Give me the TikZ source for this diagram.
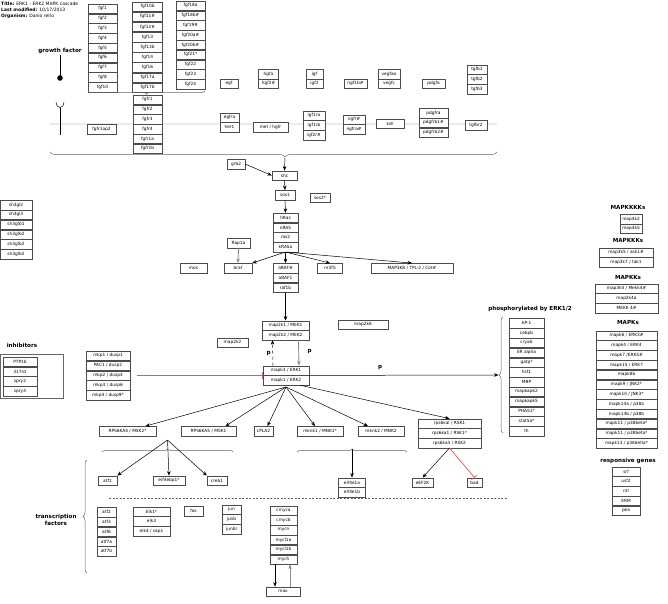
\documentclass[tikz,border=0pt]{standalone}
\usepackage{fontspec}
\setmainfont{DejaVu Sans}
\usetikzlibrary{arrows.meta,positioning,decorations.pathreplacing}
\newcommand{\genefont}{\fontsize{4.3}{5}\selectfont}
\newcommand{\headfont}{\fontsize{5.6}{6.6}\selectfont\bfseries}

\begin{document}
\begin{tikzpicture}[x=1pt, y=-1pt,
  col/.style={rectangle, draw=black!70, fill=white, font=\genefont, minimum height=9.4pt,
              minimum width=#1, inner sep=0.5pt, line width=0.4pt},
  head/.style={font=\headfont, inner sep=0pt},
  act/.style={-{Stealth[length=4.5pt,width=3.6pt]}, line width=0.5pt},
  gact/.style={act, draw=black!45, line width=0.9pt},
  inh/.style={-{Bar[width=7pt]}, draw=red!70, line width=0.7pt},
  brc/.style={decorate, decoration={brace, amplitude=#1}, draw=black!60, line width=0.5pt}]
\useasboundingbox (0,0) rectangle (668,603);

% title block
\node[anchor=north west, align=left, font=\fontsize{4.5}{6}\selectfont, inner sep=0pt](title) at (1,1.5)
  {\textbf{Title:} ERK1 - ERK2 MAPK cascade\\\textbf{Last modified:} 10/17/2013\\\textbf{Organism:} Danio rerio};

% growth factors
\node[head](gf) at (60,51){growth factor};
\draw[line width=0.6pt] (60,55)--(60,76);
\fill (60,78) circle (2.8pt);

\node[col=29pt](f1) at (102.5,8.7){fgf1};
\node[col=29pt, below=0pt of f1](f2){fgf2};
\node[col=29pt, below=0pt of f2](f3){fgf3};
\node[col=29pt, below=0pt of f3](f4){fgf4};
\node[col=29pt, below=0pt of f4](f5){fgf5};
\node[col=29pt, below=0pt of f5](f6){fgf6};
\node[col=29pt, below=0pt of f6](f7){fgf7};
\node[col=29pt, below=0pt of f7](f8){fgf8};
\node[col=29pt, below=0pt of f8](f10){fgf10};

\node[col=30pt](f10b) at (147.5,6.7){fgf10b};
\node[col=30pt, below=0.3pt of f10b](f11){fgf11\#};
\node[col=30pt, below=0.3pt of f11](f12){fgf12\#};
\node[col=30pt, below=0.3pt of f12](f13){fgf13};
\node[col=30pt, below=0.3pt of f13](f13b){fgf13b};
\node[col=30pt, below=0.3pt of f13b](f14){fgf14};
\node[col=30pt, below=0.3pt of f14](f16){fgf16};
\node[col=30pt, below=0.3pt of f16](f17a){fgf17a};
\node[col=30pt, below=0.3pt of f17a](f17b){fgf17b};

\node[col=29pt](f18a) at (190.5,5.7){fgf18a};
\node[col=29pt, below=0pt of f18a](f18b){fgf18b\#};
\node[col=29pt, below=0pt of f18b](f19){fgf19\#};
\node[col=29pt, below=0pt of f19](f20a){fgf20a\#};
\node[col=29pt, below=0pt of f20a](f20b){fgf20b\#};
\node[col=29pt, below=0pt of f20b](f21){fgf21*};
\node[col=29pt, below=0pt of f21](f22){fgf22};
\node[col=29pt, below=0pt of f22](f23){fgf23};
\node[col=29pt, below=0pt of f23](f24){fgf24};

\node[col=18pt](egf) at (229,83.5){egf};
\node[col=20pt](hgfa) at (268.5,74){hgfa};
\node[col=20pt, below=0pt of hgfa](hgf2){hgf2\#};
\node[col=17pt](igf) at (314.5,74){igf};
\node[col=17pt, below=0pt of igf](igf2){igf2};
\node[col=23pt](ngf) at (355.5,83.5){ngf1b\#};
\node[col=22pt](vegfaa) at (389,74){vegfaa};
\node[col=22pt, below=0pt of vegfaa](vegfc){vegfc};
\node[col=23pt](pdgfa) at (433.5,83.5){pdgfa};
\node[col=20pt](tgfb1) at (477,69.5){tgfb1};
\node[col=20pt, below=0pt of tgfb1](tgfb2){tgfb2};
\node[col=20pt, below=0pt of tgfb2](tgfb3){tgfb3};

\draw[brc=3pt] (205,91)--(88,91);

% membrane and receptors
\draw[black!35, line width=2.8pt] (50,124)--(497,124);
\draw[black!8, line width=1.6pt] (50,124)--(497,124);
\draw[line width=0.5pt] (56,102) .. controls (56.5,106) and (58,107.5) .. (60,107.5)
  .. controls (62,107.5) and (63.5,106) .. (64,102);
\draw[line width=0.5pt] (60,107.5)--(60,135);

\node[col=29pt](fr1) at (147.5,99.7){fgfr1};
\node[col=29pt, below=0pt of fr1](fr2){fgfr2};
\node[col=29pt, below=0pt of fr2](fr3){fgfr3};
\node[col=29pt, below=0pt of fr3](fr4){fgfr4};
\node[col=29pt, below=0pt of fr4](fr1a){fgfr1a};
\node[col=29pt, below=0pt of fr1a](fr1b){fgfr1b};
\node[col=29pt](fop) at (101.5,129){fgfr1op2};
\node[col=19pt](egfra) at (229.5,117.5){egfra};
\node[col=19pt, below=0pt of egfra](her1){her1};
\node[col=35pt](met) at (270.5,127){met / hgfr};
\node[col=22pt](igf1ra) at (314,115.5){igf1ra};
\node[col=22pt, below=0pt of igf1ra](igf1rb){igf1rb};
\node[col=22pt, below=0pt of igf1rb](igf2r){igf2r\#};
\node[col=22pt](ngfr) at (354,119.5){ngfr\#};
\node[col=22pt, below=0pt of ngfr](ngfra){ngfra\#};
\node[col=28pt](kdr) at (390,123.5){kdr};
\node[col=29pt](pdgfra) at (433.5,113){pdgfra};
\node[col=29pt, below=0pt of pdgfra](pdgfrb1){pdgfrb1\#};
\node[col=29pt, below=0pt of pdgfrb1](pdgfrb2){pdgfrb2\#};
\node[col=22pt](tgfbr2) at (476,125){tgfbr2};

\draw[decorate, decoration={brace, amplitude=5pt, aspect=0.474}, draw=black!60, line width=0.5pt] (497,152)--(50,152);
\coordinate (rtip) at (285,157.5);

% ras / raf module
\node[col=25pt](shc) at (284.5,175.5){shc};
\node[col=18pt](grb2) at (236,164){grb2};
\node[col=20pt](sos1) at (285,195){sos1};
\node[col=20pt](sos2) at (320,197.5){sos2*};
\node[col=25pt](hras) at (285.5,217.7){hRas};
\node[col=25pt, below=0pt of hras](nras){nRAS};
\node[col=25pt, below=0pt of nras](ras2){ras2};
\node[col=25pt, below=0pt of ras2](kras){kRASa};
\node[col=23pt](rap1a) at (238.5,243){Rap1a};
\node[col=27pt](mos) at (193.5,268){mos};
\node[col=28pt](braf) at (238,268){braf};
\node[col=25pt](araf) at (285.5,268){aRAF\#};
\node[col=25pt, below=0pt of araf](araf1){aRAF1};
\node[col=25pt, below=0pt of araf1](raf1b){raf1b};
\node[col=25pt](nr2f5) at (330,268){nr2f5};
\node[col=82pt](map3k8) at (412,268){MAP3K8 / TPL-2 / Cot\#};

\draw[act] (rtip)--(shc.north);
\draw[act] (grb2.east)--(shc.west);
\draw[act] (shc.south)--(sos1.north);
\draw[act] (sos1.south)--(hras.north);
\draw[gact] (rap1a.south)--(braf.north);
\draw[act] (kras.south)--(braf.north east);
\draw[act] (kras.south)--(araf.north);
\draw[act] (kras.south)--(nr2f5.north);
\draw[act] (kras.south)--(map3k8.north);

% mek / erk
\node[col=47pt](mek1) at (285.5,325.5){map2k1 / MEK1};
\node[col=47pt, below=0pt of mek1](mek2){map2k2 / MEK2};
\node[col=50pt](map2k6) at (363,324.5){map2k6};
\node[col=31pt](map2k2) at (232.5,342.5){map2k2};
\node[col=46pt](erk1) at (286,370.5){mapk3 / ERK1};
\node[col=46pt, below=0pt of erk1](erk2){mapk1 / ERK2};
\draw[act] (raf1b.south)--(mek1.north);
\draw[gact] ([xshift=13pt]mek2.south)--([xshift=13pt]erk1.north);
\draw[act, dashed] ([xshift=-13pt]erk1.north)--([xshift=-13pt]mek2.south);
\node[head](pdown) at (309.5,352){p};
\node[head](pup) at (268.5,354){p};

% inhibitors
\node[head](inhlbl) at (22,345){inhibitors};
\node[draw=black!60, line width=0.4pt, minimum width=62.5pt, minimum height=44pt, inner sep=0pt](inhbox) at (31.75,376){};
\node[col=34pt](ptp) at (20,361.7){PTP1b};
\node[col=34pt, below=0pt of ptp](il17){il17rd};
\node[col=34pt, below=0pt of il17](spry2){spry2};
\node[col=34pt, below=0pt of spry2](spry4){spry4};

\node[col=44pt](mkp1) at (108,355.8){mkp1 / dusp1};
\node[col=44pt, below=0pt of mkp1](pac1){PAC1 / dusp2};
\node[col=44pt, below=0pt of pac1](mkp2){mkp2 / dusp4};
\node[col=44pt, below=0pt of mkp2](mkp3){mkp3 / dusp6};
\node[col=44pt, below=0pt of mkp3](mkp4){mkp4 / dusp9*};
\draw[inh] ([xshift=7pt]mkp2.east)--(mkp2.east -| erk1.west);

\node[col=32pt](sh1) at (16,205){sh3gl2};
\node[col=32pt, below=0pt of sh1](sh2){sh3gl3};
\node[col=32pt, below=0pt of sh2](sh3){sh3glb1};
\node[col=32pt, below=0pt of sh3](sh4){sh3glb2};
\node[col=32pt, below=0pt of sh4](sh5){sh3glb2};
\node[col=32pt, below=0pt of sh5](sh6){sh3glb2};

% phosphorylated by erk1/2
\node[head](phlbl) at (530,309){phosphorylated by ERK1/2};
\node[col=35pt](ap1) at (526.5,323.2){AP-1};
\node[col=35pt, below=0pt of ap1](cebpb){cebpb};
\node[col=35pt, below=0pt of cebpb](cryab){cryab};
\node[col=35pt, below=0pt of cryab](era){ER alpha};
\node[col=35pt, below=0pt of era](gatp){gatp*};
\node[col=35pt, below=0pt of gatp](hsf1){hsf1};
\node[col=35pt, below=0pt of hsf1](mbp){MBP};
\node[col=35pt, below=0pt of mbp](mk2){mapkapk2};
\node[col=35pt, below=0pt of mk2](mk5){mapkapk5};
\node[col=35pt, below=0pt of mk5](phas1){PHAS1*};
\node[col=35pt, below=0pt of phas1](stat5a){stat5a*};
\node[col=35pt, below=0pt of stat5a](th){th};
\draw[brc=4pt] (503,433)--(503,317);
\coordinate (ptip) at (498.5,375);
\draw[act] (erk1.south east)--(ptip);
\node[head](pright) at (380,368){p};

% other mapk families
\node[head](l4k) at (628,207){MAPKKKKs};
\node[col=22pt](m4k2) at (631,219){map4k2};
\node[col=22pt, below=0pt of m4k2](m4k5){map4k5};
\node[head](l3k) at (628,240){MAPKKKs};
\node[col=54pt](m3k5) at (626,252.5){map3k5 / ask1\#};
\node[col=54pt, below=0pt of m3k5](m3k7){map3k7 / tak1};
\node[head](l2k) at (628,277){MAPKKs};
\node[col=63pt](m3k4) at (626.5,288.5){map3k4 / Mekk4\#};
\node[col=63pt, below=0pt of m3k4](m2k4a){map2k4a};
\node[col=63pt, below=0pt of m2k4a](mekk4){MEKK 4\#};
\node[head](lk) at (628,322){MAPKs};
\node[col=61pt](mk6) at (626.5,335.5){mapk6 / ERK3\#};
\node[col=61pt, below=0pt of mk6](mk4){mapk4 / ERK4};
\node[col=61pt, below=0pt of mk4](mk7){mapk7 /ERK5\#};
\node[col=61pt, below=0pt of mk7](mk15){mapk15 / ERK7};
\node[col=61pt, below=0pt of mk15](mk8b){mapk8b};
\node[col=61pt, below=0pt of mk8b](mk9){mapk9 / JNK2*};
\node[col=61pt, below=0pt of mk9](mk10){mapk10 / JNK3*};
\node[col=61pt, below=0pt of mk10](mk14a){mapk14a / p38a};
\node[col=61pt, below=0pt of mk14a](mk14b){mapk14b / p38b};
\node[col=61pt, below=0pt of mk14b](mk11a){mapk11 / p38beta*};
\node[col=61pt, below=0pt of mk11a](mk11b){mapk11 / p38beta*};
\node[col=61pt, below=0pt of mk11b](mk13){mapk13 / p38delta*};

\node[head](lrg) at (628,461){responsive genes};
\node[col=28pt](srf) at (626,471.5){srf};
\node[col=28pt, below=0pt of srf](usf2){usf2};
\node[col=28pt, below=0pt of usf2](ntl){ntl};
\node[col=28pt, below=0pt of ntl](erm){ERM};
\node[col=28pt, below=0pt of erm](pea){pea};

% erk targets
\coordinate (erkc) at (286,387);
\node[col=57pt](msk2) at (127.5,431){RPS6KA4 / MSK2*};
\node[col=55pt](msk1) at (208.5,431){RPS6KA5 / MSK1};
\node[col=19pt](cpla2) at (263.5,431){cPLA2};
\node[col=46pt](mnk1) at (320,431){mknk1 / MNK1*};
\node[col=46pt](mnk2) at (381,431){mknk2 / MNK2};
\node[col=63pt](rsk1) at (449.5,423.5){rps6kal / RSK1};
\node[col=63pt, below=0pt of rsk1](rsk1b){rps6ka1 / RSK1*};
\node[col=63pt, below=0pt of rsk1b](rsk2){rps6ka3 / RSK2};
\draw[act] (erkc)--([xshift=18pt]msk2.north);
\draw[act] (erkc)--([xshift=17pt]msk1.north);
\draw[act] (erkc)--([xshift=4pt]cpla2.north);
\draw[act] (erkc)--([xshift=-5pt]mnk1.north);
\draw[act] (erkc)--([xshift=-13pt]mnk2.north);
\draw[act] ([xshift=14pt]erk2.south)--(rsk1.north);

\draw[brc=3pt] (102,452)--(233,452);
\coordinate (mskc) at (167.5,440);
\node[col=19pt](atf1) at (107.5,480.5){atf1};
\node[col=32pt](eif4ebp) at (169,480.5){eif4ebp1*};
\node[col=20pt](creb1) at (217,480.5){creb1};
\draw[act] (mskc)--(atf1.north east);
\draw[act] (mskc)--(eif4ebp.north);
\draw[act] (mskc)--(creb1.north west);

\draw[brc=3pt] (297,452)--(407,452);
\coordinate (mnkc) at (352,449);
\node[col=27pt](eif4ea) at (352,482.5){eif4e1a};
\node[col=27pt, below=0pt of eif4ea](eif4eb){eif4e1b};
\draw[act] (mnkc)--(eif4ea.north);

\node[col=21pt](eef2k) at (422.5,482.5){eEF2K};
\node[col=15pt](bad) at (474.5,482.5){bad};
\draw[act] (rsk2.south)--(eef2k.north);
\draw[inh] (rsk2.south)--(bad.north);

% transcription factors
\draw[black!60, dash pattern=on 2pt off 1.5pt, line width=0.4pt] (109,498)--(508,498);
\draw[brc=4pt] (87,573)--(87,460);
\node[head, align=center](tflbl) at (56,520){transcription\\factors};
\node[col=19pt](atf2) at (106.5,512){atf2};
\node[col=19pt, below=0pt of atf2](atf3){atf3};
\node[col=19pt, below=0pt of atf3](atf6){atf6};
\node[col=19pt, below=0pt of atf6](atf7a){atf7a};
\node[col=19pt, below=0pt of atf7a](atf7b){atf7b};
\node[col=37pt](elk1) at (151.5,511.5){Elk1*};
\node[col=37pt, below=0pt of elk1](elk3){elk3};
\node[col=37pt, below=0pt of elk3](elk4){elk4 / sap1};
\node[col=19pt](fos) at (193.5,511){fos};
\node[col=19pt](jun) at (231.5,509.5){jun};
\node[col=19pt, below=0pt of jun](junb){junb};
\node[col=19pt, below=0pt of junb](junbl){junbl};
\node[col=27pt](cmyca) at (283.5,510.5){cmyca};
\node[col=27pt, below=0pt of cmyca](cmycb){cmycb};
\node[col=27pt, below=0pt of cmycb](mycn){mycn};
\node[col=27pt, below=0pt of mycn](mycla){mycl1a};
\node[col=27pt, below=0pt of mycla](myclb){mycl1b};
\node[col=27pt, below=0pt of myclb](mych){mych};
\node[col=34pt](max) at (283,591.5){max};
\draw[act] ([xshift=-8.5pt]mych.south)--([xshift=-8pt]max.north);
\draw[gact] ([xshift=7pt]max.north)--([xshift=6.5pt]mych.south);
\end{tikzpicture}
\end{document}
